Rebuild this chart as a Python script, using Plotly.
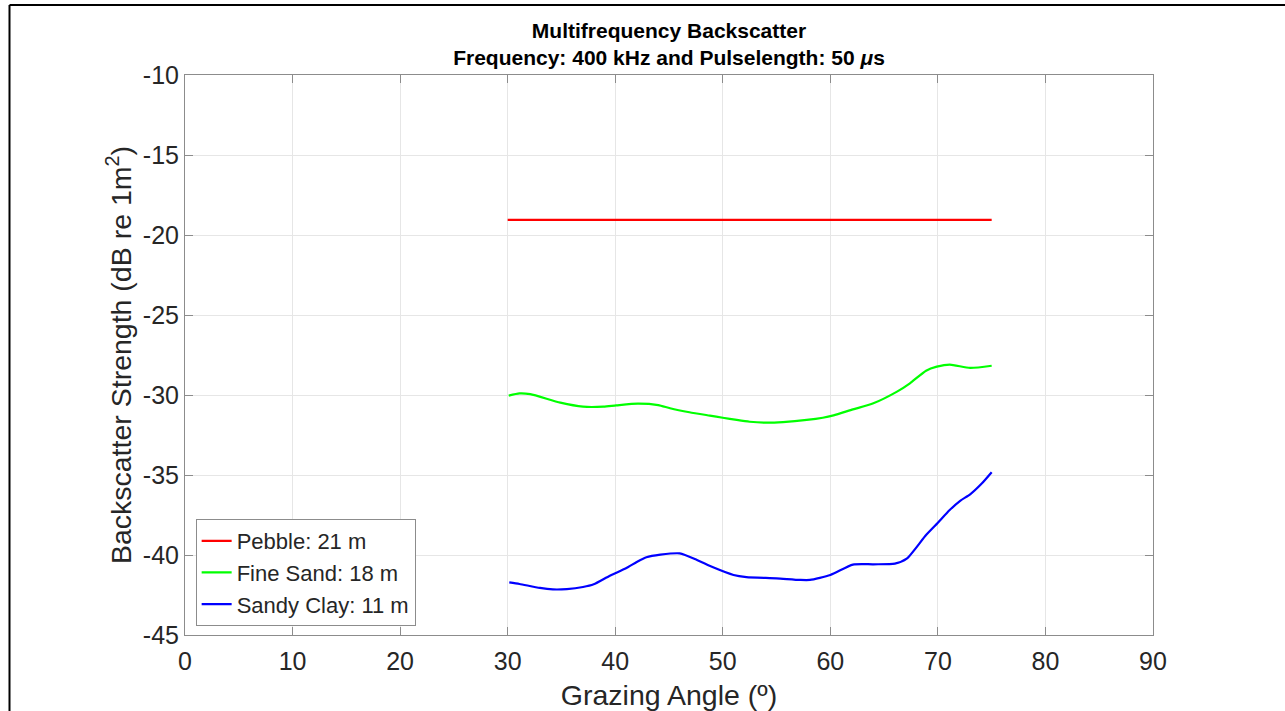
import plotly.graph_objects as go

# ---- data ----
pebble_x = [30, 75]
pebble_y = [-19.06, -19.06]

fine_x = [30.1, 31.1, 32.1, 34.9, 37.0, 38.9, 40.1, 42.1, 44.0, 45.1, 46.9, 48.8, 50.0,
          51.3, 52.5, 54.1, 55.6, 57.8, 59.3, 60.3, 62.1, 64.0, 66.2, 67.4, 68.9, 69.9,
          71.1, 73.0, 75.0]
fine_y = [-30.04, -29.9, -29.95, -30.48, -30.73, -30.73, -30.65, -30.54, -30.63, -30.83,
          -31.08, -31.29, -31.42, -31.56, -31.67, -31.73, -31.69, -31.56, -31.42, -31.27,
          -30.9, -30.52, -29.79, -29.27, -28.48, -28.23, -28.1, -28.31, -28.17]

clay_x = [30.15, 31.1, 33.0, 34.2, 35.5, 37.0, 38.0, 39.5, 41.0, 42.0, 42.9, 44.2, 46.0,
          47.6, 49.1, 51.0, 52.2, 55.0, 57.2, 58.1, 60.0, 62.1, 64.0, 66.0, 67.1, 68.9,
          70.0, 71.1, 72.1, 73.0, 74.1, 75.0]
clay_y = [-41.71, -41.81, -42.06, -42.15, -42.13, -42.0, -41.83, -41.29, -40.83, -40.44,
          -40.14, -39.98, -39.9, -40.31, -40.77, -41.25, -41.38, -41.46, -41.56, -41.56,
          -41.25, -40.6, -40.58, -40.54, -40.23, -38.75, -37.98, -37.19, -36.6, -36.21,
          -35.52, -34.83]

series_names = ["Pebble: 21 m", "Fine Sand: 18 m", "Sandy Clay: 11 m"]
series_colors = ["#ff0000", "#00ff00", "#0000ff"]

x_ticks = [0, 10, 20, 30, 40, 50, 60, 70, 80, 90]
x_tick_labels = ["0", "10", "20", "30", "40", "50", "60", "70", "80", "90"]
y_ticks = [-45, -40, -35, -30, -25, -20, -15, -10]
y_tick_labels = ["-45", "-40", "-35", "-30", "-25", "-20", "-15", "-10"]

title_text = ("<b>Multifrequency Backscatter</b><br>"
              "<b>Frequency: 400 kHz and Pulselength: 50 <i>μ</i>s</b>")
x_label = "Grazing Angle (º)"
y_label = "Backscatter Strength (dB re 1m<sup>2</sup>)"

# ---- figure ----
fig = go.Figure()
for xs, ys, name, col in zip([pebble_x, fine_x, clay_x], [pebble_y, fine_y, clay_y],
                             series_names, series_colors):
    fig.add_trace(go.Scatter(x=xs, y=ys, mode="lines", name=name,
                             line=dict(color=col, width=2.2, shape="spline", smoothing=0.6)))

font_family = "Liberation Sans, Arial, sans-serif"
axis_common = dict(
    showline=True, linecolor="#8c8c8c", linewidth=1, mirror="ticks",
    showgrid=True, gridcolor="#e6e6e6", gridwidth=1,
    ticks="inside", ticklen=8, tickcolor="#8c8c8c",
    tickfont=dict(family=font_family, size=25, color="#262626"),
    zeroline=False, automargin=False,
)

fig.update_layout(
    width=1285, height=711,
    margin=dict(l=185, r=132, t=75, b=76, autoexpand=False),
    paper_bgcolor="white", plot_bgcolor="white",
    font=dict(family=font_family, color="#262626"),
    title=dict(text=title_text, x=(185 + 1153) / 2 / 1285, xanchor="center",
               y=1 - 38 / 711, yanchor="middle",
               font=dict(family=font_family, size=21, color="black")),
    xaxis=dict(range=[0, 90], tickvals=x_ticks, ticktext=x_tick_labels,
               ticklabelstandoff=4,
               title=dict(text=x_label, font=dict(family=font_family, size=28.5, color="#262626"),
                          standoff=12),
               **axis_common),
    yaxis=dict(range=[-45, -10], tickvals=y_ticks, ticktext=y_tick_labels,
               title=dict(text=y_label, font=dict(family=font_family, size=28.5, color="#262626"),
                          standoff=2),
               **axis_common),
    legend=dict(x=0.011, y=0.016, xanchor="left", yanchor="bottom",
                bgcolor="white", bordercolor="#8c8c8c", borderwidth=1,
                font=dict(family=font_family, size=22, color="#262626"),
                itemwidth=30, tracegroupgap=0),
    showlegend=True,
)

# outer frame lines (top and left)
fig.add_shape(type="line", xref="paper", yref="paper",
              x0=(9.5 - 185) / 968, x1=(1285 - 185) / 968,
              y0=(635 - 5) / 560, y1=(635 - 5) / 560,
              line=dict(color="black", width=2))
fig.add_shape(type="line", xref="paper", yref="paper",
              x0=(9.5 - 185) / 968, x1=(9.5 - 185) / 968,
              y0=(635 - 5) / 560, y1=(635 - 711) / 560,
              line=dict(color="black", width=2))

fig.write_html("out.html")
